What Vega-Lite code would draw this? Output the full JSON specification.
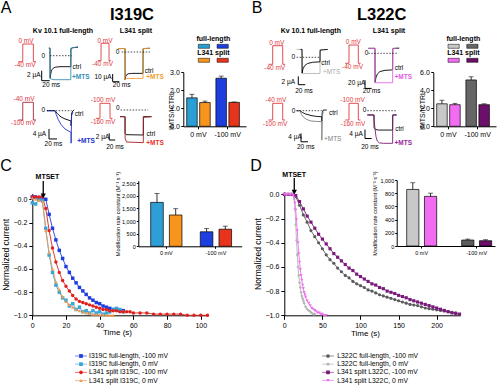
{
"$schema":"https://vega.github.io/schema/vega-lite/v6.json",
"width":500,"height":386,"padding":0,"autosize":{"type":"none"},"background":"white",
"config":{
 "view":{"stroke":null},
 "font":"Liberation Sans",
 "axis":{"grid":false,"domainColor":"#000","domainWidth":1,"tickColor":"#000","tickWidth":1,"labelColor":"#000","titleColor":"#000","labelFont":"Liberation Sans","titleFont":"Liberation Sans","titleFontWeight":"normal","labelFontSize":7,"titleFontSize":8,"tickSize":3,"labelPadding":2,"labelFlush":false,"labelOverlap":false},
 "legend":{"labelFont":"Liberation Sans","labelColor":"#000"},
 "text":{"baseline":"middle","font":"Liberation Sans"}
},
"resolve":{"scale":{"x":"independent","y":"independent","xOffset":"independent","color":"independent","fill":"independent","shape":"independent"}},
"datasets":{
"C":[
{"s":"I319C full-length, -100 mV","t":0,"y":0.02},{"s":"I319C full-length, -100 mV","t":2,"y":0.02},{"s":"I319C full-length, -100 mV","t":4,"y":0.01},{"s":"I319C full-length, -100 mV","t":6,"y":0.02},{"s":"I319C full-length, -100 mV","t":8,"y":0},{"s":"I319C full-length, -100 mV","t":10,"y":-0.13},{"s":"I319C full-length, -100 mV","t":12,"y":-0.25},{"s":"I319C full-length, -100 mV","t":14,"y":-0.35},{"s":"I319C full-length, -100 mV","t":16,"y":-0.44},{"s":"I319C full-length, -100 mV","t":18,"y":-0.51},{"s":"I319C full-length, -100 mV","t":20,"y":-0.58},{"s":"I319C full-length, -100 mV","t":22,"y":-0.63},{"s":"I319C full-length, -100 mV","t":24,"y":-0.68},{"s":"I319C full-length, -100 mV","t":26,"y":-0.72},{"s":"I319C full-length, -100 mV","t":28,"y":-0.76},{"s":"I319C full-length, -100 mV","t":30,"y":-0.79},{"s":"I319C full-length, -100 mV","t":32,"y":-0.82},{"s":"I319C full-length, -100 mV","t":34,"y":-0.85},{"s":"I319C full-length, -100 mV","t":36,"y":-0.87},{"s":"I319C full-length, -100 mV","t":38,"y":-0.89},{"s":"I319C full-length, -100 mV","t":40,"y":-0.9},{"s":"I319C full-length, -100 mV","t":42,"y":-0.92},{"s":"I319C full-length, -100 mV","t":44,"y":-0.93},{"s":"I319C full-length, -100 mV","t":46,"y":-0.94},{"s":"I319C full-length, -100 mV","t":48,"y":-0.95},{"s":"I319C full-length, -100 mV","t":50,"y":-0.95},{"s":"I319C full-length, -100 mV","t":52,"y":-0.96},{"s":"I319C full-length, -100 mV","t":54,"y":-0.96},
{"s":"I319C full-length, 0 mV","t":0,"y":-0.03},{"s":"I319C full-length, 0 mV","t":2,"y":-0.04},{"s":"I319C full-length, 0 mV","t":4,"y":0},{"s":"I319C full-length, 0 mV","t":6,"y":-0.01},{"s":"I319C full-length, 0 mV","t":8,"y":-0.25},{"s":"I319C full-length, 0 mV","t":10,"y":-0.48},{"s":"I319C full-length, 0 mV","t":12,"y":-0.63},{"s":"I319C full-length, 0 mV","t":14,"y":-0.74},{"s":"I319C full-length, 0 mV","t":16,"y":-0.8},{"s":"I319C full-length, 0 mV","t":18,"y":-0.85},{"s":"I319C full-length, 0 mV","t":20,"y":-0.87},{"s":"I319C full-length, 0 mV","t":22,"y":-0.92},{"s":"I319C full-length, 0 mV","t":24,"y":-0.9},{"s":"I319C full-length, 0 mV","t":26,"y":-0.95},{"s":"I319C full-length, 0 mV","t":28,"y":-0.93},{"s":"I319C full-length, 0 mV","t":30,"y":-0.97},{"s":"I319C full-length, 0 mV","t":32,"y":-0.96},{"s":"I319C full-length, 0 mV","t":34,"y":-0.98},{"s":"I319C full-length, 0 mV","t":36,"y":-0.96},{"s":"I319C full-length, 0 mV","t":38,"y":-0.98},{"s":"I319C full-length, 0 mV","t":40,"y":-0.97},{"s":"I319C full-length, 0 mV","t":42,"y":-0.99},{"s":"I319C full-length, 0 mV","t":44,"y":-0.98},{"s":"I319C full-length, 0 mV","t":46,"y":-0.97},{"s":"I319C full-length, 0 mV","t":48,"y":-0.95},{"s":"I319C full-length, 0 mV","t":50,"y":-0.94},{"s":"I319C full-length, 0 mV","t":52,"y":-0.95},{"s":"I319C full-length, 0 mV","t":54,"y":-0.97},
{"s":"L341 split I319C, -100 mV","t":0,"y":0.02},{"s":"L341 split I319C, -100 mV","t":2,"y":0.02},{"s":"L341 split I319C, -100 mV","t":4,"y":0.02},{"s":"L341 split I319C, -100 mV","t":6,"y":0.02},{"s":"L341 split I319C, -100 mV","t":8,"y":-0.08},{"s":"L341 split I319C, -100 mV","t":10,"y":-0.27},{"s":"L341 split I319C, -100 mV","t":12,"y":-0.42},{"s":"L341 split I319C, -100 mV","t":14,"y":-0.54},{"s":"L341 split I319C, -100 mV","t":16,"y":-0.63},{"s":"L341 split I319C, -100 mV","t":18,"y":-0.7},{"s":"L341 split I319C, -100 mV","t":20,"y":-0.75},{"s":"L341 split I319C, -100 mV","t":22,"y":-0.79},{"s":"L341 split I319C, -100 mV","t":24,"y":-0.83},{"s":"L341 split I319C, -100 mV","t":26,"y":-0.86},{"s":"L341 split I319C, -100 mV","t":28,"y":-0.88},{"s":"L341 split I319C, -100 mV","t":30,"y":-0.89},{"s":"L341 split I319C, -100 mV","t":32,"y":-0.9},{"s":"L341 split I319C, -100 mV","t":34,"y":-0.91},{"s":"L341 split I319C, -100 mV","t":36,"y":-0.92},{"s":"L341 split I319C, -100 mV","t":38,"y":-0.93},{"s":"L341 split I319C, -100 mV","t":40,"y":-0.94},{"s":"L341 split I319C, -100 mV","t":42,"y":-0.95},{"s":"L341 split I319C, -100 mV","t":44,"y":-0.95},{"s":"L341 split I319C, -100 mV","t":46,"y":-0.96},{"s":"L341 split I319C, -100 mV","t":48,"y":-0.96},{"s":"L341 split I319C, -100 mV","t":50,"y":-0.96},{"s":"L341 split I319C, -100 mV","t":52,"y":-0.97},{"s":"L341 split I319C, -100 mV","t":54,"y":-0.97},{"s":"L341 split I319C, -100 mV","t":56,"y":-0.97},{"s":"L341 split I319C, -100 mV","t":58,"y":-0.97},{"s":"L341 split I319C, -100 mV","t":60,"y":-0.98},{"s":"L341 split I319C, -100 mV","t":64,"y":-0.98},{"s":"L341 split I319C, -100 mV","t":68,"y":-0.98},{"s":"L341 split I319C, -100 mV","t":72,"y":-0.99},{"s":"L341 split I319C, -100 mV","t":76,"y":-0.99},{"s":"L341 split I319C, -100 mV","t":80,"y":-0.99},{"s":"L341 split I319C, -100 mV","t":84,"y":-0.99},{"s":"L341 split I319C, -100 mV","t":88,"y":-0.99},{"s":"L341 split I319C, -100 mV","t":92,"y":-1},{"s":"L341 split I319C, -100 mV","t":96,"y":-1},{"s":"L341 split I319C, -100 mV","t":100,"y":-1},{"s":"L341 split I319C, -100 mV","t":104,"y":-1},
{"s":"L341 split I319C, 0 mV","t":0,"y":0.01},{"s":"L341 split I319C, 0 mV","t":2,"y":0},{"s":"L341 split I319C, 0 mV","t":4,"y":-0.01},{"s":"L341 split I319C, 0 mV","t":6,"y":-0.02},{"s":"L341 split I319C, 0 mV","t":8,"y":-0.27},{"s":"L341 split I319C, 0 mV","t":10,"y":-0.46},{"s":"L341 split I319C, 0 mV","t":12,"y":-0.6},{"s":"L341 split I319C, 0 mV","t":14,"y":-0.71},{"s":"L341 split I319C, 0 mV","t":16,"y":-0.78},{"s":"L341 split I319C, 0 mV","t":18,"y":-0.84},{"s":"L341 split I319C, 0 mV","t":20,"y":-0.88},{"s":"L341 split I319C, 0 mV","t":22,"y":-0.91},{"s":"L341 split I319C, 0 mV","t":24,"y":-0.93},{"s":"L341 split I319C, 0 mV","t":26,"y":-0.95},{"s":"L341 split I319C, 0 mV","t":28,"y":-0.96},{"s":"L341 split I319C, 0 mV","t":30,"y":-0.97},{"s":"L341 split I319C, 0 mV","t":32,"y":-0.98},{"s":"L341 split I319C, 0 mV","t":34,"y":-0.98},{"s":"L341 split I319C, 0 mV","t":36,"y":-0.99},{"s":"L341 split I319C, 0 mV","t":38,"y":-0.99},{"s":"L341 split I319C, 0 mV","t":40,"y":-1},{"s":"L341 split I319C, 0 mV","t":42,"y":-0.99},{"s":"L341 split I319C, 0 mV","t":44,"y":-1},{"s":"L341 split I319C, 0 mV","t":46,"y":-1},{"s":"L341 split I319C, 0 mV","t":48,"y":-1}
],
"D":[
{"s":"L322C full-length, -100 mV","t":0,"y":0},{"s":"L322C full-length, -100 mV","t":5,"y":0},{"s":"L322C full-length, -100 mV","t":10,"y":0},{"s":"L322C full-length, -100 mV","t":15,"y":-0.02},{"s":"L322C full-length, -100 mV","t":20,"y":-0.09},{"s":"L322C full-length, -100 mV","t":25,"y":-0.17},{"s":"L322C full-length, -100 mV","t":30,"y":-0.23},{"s":"L322C full-length, -100 mV","t":35,"y":-0.3},{"s":"L322C full-length, -100 mV","t":40,"y":-0.35},{"s":"L322C full-length, -100 mV","t":45,"y":-0.4},{"s":"L322C full-length, -100 mV","t":50,"y":-0.45},{"s":"L322C full-length, -100 mV","t":55,"y":-0.5},{"s":"L322C full-length, -100 mV","t":60,"y":-0.54},{"s":"L322C full-length, -100 mV","t":65,"y":-0.57},{"s":"L322C full-length, -100 mV","t":70,"y":-0.61},{"s":"L322C full-length, -100 mV","t":75,"y":-0.64},{"s":"L322C full-length, -100 mV","t":80,"y":-0.67},{"s":"L322C full-length, -100 mV","t":85,"y":-0.69},{"s":"L322C full-length, -100 mV","t":90,"y":-0.72},{"s":"L322C full-length, -100 mV","t":95,"y":-0.74},{"s":"L322C full-length, -100 mV","t":100,"y":-0.755},{"s":"L322C full-length, -100 mV","t":105,"y":-0.77},{"s":"L322C full-length, -100 mV","t":110,"y":-0.79},{"s":"L322C full-length, -100 mV","t":115,"y":-0.8},{"s":"L322C full-length, -100 mV","t":120,"y":-0.815},{"s":"L322C full-length, -100 mV","t":125,"y":-0.83},{"s":"L322C full-length, -100 mV","t":130,"y":-0.84},{"s":"L322C full-length, -100 mV","t":135,"y":-0.85},{"s":"L322C full-length, -100 mV","t":140,"y":-0.86},{"s":"L322C full-length, -100 mV","t":145,"y":-0.87},{"s":"L322C full-length, -100 mV","t":150,"y":-0.88},{"s":"L322C full-length, -100 mV","t":155,"y":-0.89},{"s":"L322C full-length, -100 mV","t":160,"y":-0.9},{"s":"L322C full-length, -100 mV","t":165,"y":-0.91},{"s":"L322C full-length, -100 mV","t":170,"y":-0.915},{"s":"L322C full-length, -100 mV","t":175,"y":-0.92},{"s":"L322C full-length, -100 mV","t":180,"y":-0.93},{"s":"L322C full-length, -100 mV","t":185,"y":-0.94},{"s":"L322C full-length, -100 mV","t":190,"y":-0.945},{"s":"L322C full-length, -100 mV","t":195,"y":-0.95},{"s":"L322C full-length, -100 mV","t":200,"y":-0.955},{"s":"L322C full-length, -100 mV","t":205,"y":-0.96},{"s":"L322C full-length, -100 mV","t":210,"y":-0.965},{"s":"L322C full-length, -100 mV","t":215,"y":-0.97},{"s":"L322C full-length, -100 mV","t":220,"y":-0.975},{"s":"L322C full-length, -100 mV","t":225,"y":-0.98},
{"s":"L322C full-length, 0 mV","t":0,"y":0},{"s":"L322C full-length, 0 mV","t":2,"y":0},{"s":"L322C full-length, 0 mV","t":4,"y":0},{"s":"L322C full-length, 0 mV","t":6,"y":0},{"s":"L322C full-length, 0 mV","t":8,"y":0},{"s":"L322C full-length, 0 mV","t":10,"y":0},{"s":"L322C full-length, 0 mV","t":12,"y":-0.01},{"s":"L322C full-length, 0 mV","t":13,"y":-0.04},{"s":"L322C full-length, 0 mV","t":14,"y":-0.12},{"s":"L322C full-length, 0 mV","t":15,"y":-0.25},{"s":"L322C full-length, 0 mV","t":16,"y":-0.38},{"s":"L322C full-length, 0 mV","t":17,"y":-0.5},{"s":"L322C full-length, 0 mV","t":18,"y":-0.6},{"s":"L322C full-length, 0 mV","t":19,"y":-0.67},{"s":"L322C full-length, 0 mV","t":20,"y":-0.73},{"s":"L322C full-length, 0 mV","t":21,"y":-0.77},{"s":"L322C full-length, 0 mV","t":22,"y":-0.81},{"s":"L322C full-length, 0 mV","t":23,"y":-0.84},{"s":"L322C full-length, 0 mV","t":24,"y":-0.86},{"s":"L322C full-length, 0 mV","t":25,"y":-0.88},{"s":"L322C full-length, 0 mV","t":26,"y":-0.9},{"s":"L322C full-length, 0 mV","t":28,"y":-0.93},{"s":"L322C full-length, 0 mV","t":30,"y":-0.95},{"s":"L322C full-length, 0 mV","t":32,"y":-0.96},{"s":"L322C full-length, 0 mV","t":34,"y":-0.97},{"s":"L322C full-length, 0 mV","t":36,"y":-0.98},{"s":"L322C full-length, 0 mV","t":38,"y":-0.99},{"s":"L322C full-length, 0 mV","t":40,"y":-0.99},
{"s":"L341 split L322C, -100 mV","t":0,"y":0},{"s":"L341 split L322C, -100 mV","t":5,"y":0},{"s":"L341 split L322C, -100 mV","t":10,"y":0},{"s":"L341 split L322C, -100 mV","t":15,"y":-0.01},{"s":"L341 split L322C, -100 mV","t":20,"y":-0.06},{"s":"L341 split L322C, -100 mV","t":25,"y":-0.12},{"s":"L341 split L322C, -100 mV","t":30,"y":-0.18},{"s":"L341 split L322C, -100 mV","t":35,"y":-0.23},{"s":"L341 split L322C, -100 mV","t":40,"y":-0.28},{"s":"L341 split L322C, -100 mV","t":45,"y":-0.33},{"s":"L341 split L322C, -100 mV","t":50,"y":-0.37},{"s":"L341 split L322C, -100 mV","t":55,"y":-0.41},{"s":"L341 split L322C, -100 mV","t":60,"y":-0.45},{"s":"L341 split L322C, -100 mV","t":65,"y":-0.49},{"s":"L341 split L322C, -100 mV","t":70,"y":-0.52},{"s":"L341 split L322C, -100 mV","t":75,"y":-0.55},{"s":"L341 split L322C, -100 mV","t":80,"y":-0.58},{"s":"L341 split L322C, -100 mV","t":85,"y":-0.61},{"s":"L341 split L322C, -100 mV","t":90,"y":-0.63},{"s":"L341 split L322C, -100 mV","t":95,"y":-0.66},{"s":"L341 split L322C, -100 mV","t":100,"y":-0.68},{"s":"L341 split L322C, -100 mV","t":105,"y":-0.7},{"s":"L341 split L322C, -100 mV","t":110,"y":-0.72},{"s":"L341 split L322C, -100 mV","t":115,"y":-0.74},{"s":"L341 split L322C, -100 mV","t":120,"y":-0.75},{"s":"L341 split L322C, -100 mV","t":125,"y":-0.77},{"s":"L341 split L322C, -100 mV","t":130,"y":-0.78},{"s":"L341 split L322C, -100 mV","t":135,"y":-0.8},{"s":"L341 split L322C, -100 mV","t":140,"y":-0.81},{"s":"L341 split L322C, -100 mV","t":145,"y":-0.82},{"s":"L341 split L322C, -100 mV","t":150,"y":-0.835},{"s":"L341 split L322C, -100 mV","t":155,"y":-0.845},{"s":"L341 split L322C, -100 mV","t":160,"y":-0.855},{"s":"L341 split L322C, -100 mV","t":165,"y":-0.87},{"s":"L341 split L322C, -100 mV","t":170,"y":-0.88},{"s":"L341 split L322C, -100 mV","t":175,"y":-0.89},{"s":"L341 split L322C, -100 mV","t":180,"y":-0.9},{"s":"L341 split L322C, -100 mV","t":185,"y":-0.91},{"s":"L341 split L322C, -100 mV","t":190,"y":-0.92},{"s":"L341 split L322C, -100 mV","t":195,"y":-0.93},{"s":"L341 split L322C, -100 mV","t":200,"y":-0.94},{"s":"L341 split L322C, -100 mV","t":205,"y":-0.95},{"s":"L341 split L322C, -100 mV","t":210,"y":-0.96},{"s":"L341 split L322C, -100 mV","t":215,"y":-0.97},{"s":"L341 split L322C, -100 mV","t":220,"y":-0.98},{"s":"L341 split L322C, -100 mV","t":225,"y":-0.985},{"s":"L341 split L322C, -100 mV","t":230,"y":-0.99},
{"s":"L341 split L322C, 0 mV","t":0,"y":0},{"s":"L341 split L322C, 0 mV","t":2,"y":0},{"s":"L341 split L322C, 0 mV","t":4,"y":0},{"s":"L341 split L322C, 0 mV","t":6,"y":0},{"s":"L341 split L322C, 0 mV","t":8,"y":0},{"s":"L341 split L322C, 0 mV","t":10,"y":0},{"s":"L341 split L322C, 0 mV","t":12,"y":-0.01},{"s":"L341 split L322C, 0 mV","t":13,"y":-0.03},{"s":"L341 split L322C, 0 mV","t":14,"y":-0.07},{"s":"L341 split L322C, 0 mV","t":15,"y":-0.13},{"s":"L341 split L322C, 0 mV","t":16,"y":-0.21},{"s":"L341 split L322C, 0 mV","t":17,"y":-0.3},{"s":"L341 split L322C, 0 mV","t":18,"y":-0.4},{"s":"L341 split L322C, 0 mV","t":19,"y":-0.49},{"s":"L341 split L322C, 0 mV","t":20,"y":-0.56},{"s":"L341 split L322C, 0 mV","t":21,"y":-0.62},{"s":"L341 split L322C, 0 mV","t":22,"y":-0.67},{"s":"L341 split L322C, 0 mV","t":23,"y":-0.71},{"s":"L341 split L322C, 0 mV","t":24,"y":-0.75},{"s":"L341 split L322C, 0 mV","t":25,"y":-0.78},{"s":"L341 split L322C, 0 mV","t":26,"y":-0.81},{"s":"L341 split L322C, 0 mV","t":27,"y":-0.83},{"s":"L341 split L322C, 0 mV","t":28,"y":-0.85},{"s":"L341 split L322C, 0 mV","t":30,"y":-0.88},{"s":"L341 split L322C, 0 mV","t":32,"y":-0.9},{"s":"L341 split L322C, 0 mV","t":34,"y":-0.92},{"s":"L341 split L322C, 0 mV","t":36,"y":-0.94},{"s":"L341 split L322C, 0 mV","t":38,"y":-0.95},{"s":"L341 split L322C, 0 mV","t":40,"y":-0.96},{"s":"L341 split L322C, 0 mV","t":42,"y":-0.97},{"s":"L341 split L322C, 0 mV","t":44,"y":-0.98},{"s":"L341 split L322C, 0 mV","t":46,"y":-0.98},{"s":"L341 split L322C, 0 mV","t":48,"y":-0.99},{"s":"L341 split L322C, 0 mV","t":50,"y":-0.99},{"s":"L341 split L322C, 0 mV","t":52,"y":-1},{"s":"L341 split L322C, 0 mV","t":55,"y":-1}
]
},
"layer":[
{"data":{"values":[
{"s":"c","t":22,"i":1.5},{"s":"c","t":25,"i":1.5},{"s":"c","t":25.3,"i":-4.5},{"s":"c","t":26.5,"i":-3.8},{"s":"c","t":28,"i":-3.2},{"s":"c","t":30,"i":-2.8},{"s":"c","t":33,"i":-2.5},{"s":"c","t":38,"i":-2.3},{"s":"c","t":50,"i":-2.2},{"s":"c","t":77,"i":-2.2},{"s":"c","t":77.3,"i":1.4},{"s":"c","t":82,"i":1.6},{"s":"c","t":95,"i":1.7},
{"s":"m","t":22,"i":1.5},{"s":"m","t":25,"i":1.5},{"s":"m","t":25.3,"i":-4.6},{"s":"m","t":35,"i":-4.8},{"s":"m","t":77,"i":-4.8},{"s":"m","t":77.3,"i":1.5},{"s":"m","t":95,"i":1.8}]},
"encoding":{"x":{"field":"t","type":"quantitative","scale":{"domain":[0,100],"range":[40,80]},"axis":null},"y":{"field":"i","type":"quantitative","scale":{"domain":[-6,3],"range":[85.7,40.7]},"axis":null}},
"layer":[
{"transform":[{"filter":"datum.s==='c'"}],"mark":{"type":"line","color":"#000","strokeWidth":0.9}},
{"transform":[{"filter":"datum.s==='m'"}],"mark":{"type":"line","color":"#3592b5","strokeWidth":0.9}},
{"data":{"values":[{"t":25,"t1":79,"i":0}]},"mark":{"type":"rule","color":"#000","strokeWidth":0.7,"strokeDash":[1.5,1.5]},"encoding":{"x2":{"field":"t1"}}},
{"data":{"values":[{"t":4.25,"t1":4.25,"i":-3,"i1":-5},{"t":4.25,"t1":24.25,"i":-5,"i1":-5}]},"mark":{"type":"rule","color":"#000","strokeWidth":1},"encoding":{"x2":{"field":"t1"},"y2":{"field":"i1"}}},
{"data":{"values":[{"t":8,"i":0,"txt":"0"},{"t":-15.5,"i":-3.9,"txt":"2 µA"},{"t":28,"i":-5.9,"txt":"20 ms"},{"t":92,"i":-2.2,"txt":"ctrl"}]},"mark":{"type":"text","fontSize":6.5,"color":"#000"},"encoding":{"text":{"field":"txt"}}},
{"data":{"values":[{"t":102,"i":-4.2,"txt":"+MTS"}]},"mark":{"type":"text","fontSize":6.5,"fontWeight":"bold","color":"#3592b5"},"encoding":{"text":{"field":"txt"}}},
{"data":{"values":[{"t":-85,"i":9.54,"txt":"A"}]},"mark":{"type":"text","fontSize":16,"color":"#000"},"encoding":{"text":{"field":"txt"}}},
{"data":{"values":[{"t":230,"i":8.14,"txt":"I319C"}]},"mark":{"type":"text","fontSize":16.5,"fontWeight":"bold","color":"#000"},"encoding":{"text":{"field":"txt"}}},
{"data":{"values":[{"t":57.5,"i":4.94,"txt":"Kv 10.1 full-length"},{"t":240,"i":4.94,"txt":"L341 split"}]},"mark":{"type":"text","fontSize":7,"fontWeight":"bold","color":"#000"},"encoding":{"text":{"field":"txt"}}}
]},
{"data":{"values":[{"t":0,"v":-40},{"t":15,"v":-40},{"t":15.2,"v":0},{"t":51,"v":0},{"t":51.2,"v":-40},{"t":60,"v":-40}]},
"encoding":{"x":{"field":"t","type":"quantitative","scale":{"domain":[0,60],"range":[18.3,36]},"axis":null},"y":{"field":"v","type":"quantitative","scale":{"domain":[-40,0],"range":[61.7,44]},"axis":null}},
"layer":[{"mark":{"type":"line","color":"#e0393e","strokeWidth":0.9}},
{"data":{"values":[{"t":26,"v":7.5,"txt":"0 mV"},{"t":22.7,"v":-47,"txt":"-40 mV"}]},"mark":{"type":"text","fontSize":6.5,"color":"#e0393e"},"encoding":{"text":{"field":"txt"}}}]},
{"data":{"values":[{"t":0,"v":-40},{"t":15,"v":-40},{"t":15.2,"v":0},{"t":51,"v":0},{"t":51.2,"v":-40},{"t":60,"v":-40}]},
"encoding":{"x":{"field":"t","type":"quantitative","scale":{"domain":[0,60],"range":[97.7,111]},"axis":null},"y":{"field":"v","type":"quantitative","scale":{"domain":[-40,0],"range":[60.7,43.3]},"axis":null}},
"layer":[{"mark":{"type":"line","color":"#e0393e","strokeWidth":0.9}},
{"data":{"values":[{"t":33,"v":6,"txt":"0 mV"},{"t":21.6,"v":-47.6,"txt":"-40 mV"}]},"mark":{"type":"text","fontSize":6.5,"color":"#e0393e"},"encoding":{"text":{"field":"txt"}}}]},
{"data":{"values":[{"t":0,"v":-100},{"t":15,"v":-100},{"t":15.2,"v":-40},{"t":51,"v":-40},{"t":51.2,"v":-100},{"t":60,"v":-100}]},
"encoding":{"x":{"field":"t","type":"quantitative","scale":{"domain":[0,60],"range":[18.3,36]},"axis":null},"y":{"field":"v","type":"quantitative","scale":{"domain":[-100,-40],"range":[120,102.3]},"axis":null}},
"layer":[{"mark":{"type":"line","color":"#a8253a","strokeWidth":0.9}},
{"data":{"values":[{"t":19.3,"v":-28.8,"txt":"-40 mV"},{"t":17,"v":-111.2,"txt":"-100 mV"}]},"mark":{"type":"text","fontSize":6.5,"color":"#d9363e"},"encoding":{"text":{"field":"txt"}}}]},
{"data":{"values":[{"t":0,"v":-160},{"t":15,"v":-160},{"t":15.2,"v":-100},{"t":51,"v":-100},{"t":51.2,"v":-160},{"t":60,"v":-160}]},
"encoding":{"x":{"field":"t","type":"quantitative","scale":{"domain":[0,60],"range":[95.8,112.5]},"axis":null},"y":{"field":"v","type":"quantitative","scale":{"domain":[-160,-100],"range":[118.3,103.3]},"axis":null}},
"layer":[{"mark":{"type":"line","color":"#e0393e","strokeWidth":0.9}},
{"data":{"values":[{"t":25.9,"v":-86.8,"txt":"-100 mV"},{"t":25.9,"v":-173.6,"txt":"-160 mV"}]},"mark":{"type":"text","fontSize":6.5,"color":"#e0393e"},"encoding":{"text":{"field":"txt"}}}]},
{"data":{"values":[{"t":0,"v":-40},{"t":15,"v":-40},{"t":15.2,"v":0},{"t":51,"v":0},{"t":51.2,"v":-40},{"t":60,"v":-40}]},
"encoding":{"x":{"field":"t","type":"quantitative","scale":{"domain":[0,60],"range":[268.5,285.2]},"axis":null},"y":{"field":"v","type":"quantitative","scale":{"domain":[-40,0],"range":[64.3,45.7]},"axis":null}},
"layer":[{"mark":{"type":"line","color":"#e0393e","strokeWidth":0.9}},
{"data":{"values":[{"t":29.5,"v":6.5,"txt":"0 mV"},{"t":22.3,"v":-47,"txt":"-40 mV"}]},"mark":{"type":"text","fontSize":6.5,"color":"#e0393e"},"encoding":{"text":{"field":"txt"}}}]},
{"data":{"values":[{"t":0,"v":-40},{"t":15,"v":-40},{"t":15.2,"v":0},{"t":51,"v":0},{"t":51.2,"v":-40},{"t":60,"v":-40}]},
"encoding":{"x":{"field":"t","type":"quantitative","scale":{"domain":[0,60],"range":[345.1,360.6]},"axis":null},"y":{"field":"v","type":"quantitative","scale":{"domain":[-40,0],"range":[63.3,45]},"axis":null}},
"layer":[{"mark":{"type":"line","color":"#e0393e","strokeWidth":0.9}},
{"data":{"values":[{"t":31.8,"v":7.2,"txt":"0 mV"},{"t":28.7,"v":-47.4,"txt":"-40 mV"}]},"mark":{"type":"text","fontSize":6.5,"color":"#e0393e"},"encoding":{"text":{"field":"txt"}}}]},
{"data":{"values":[{"t":0,"v":-100},{"t":15,"v":-100},{"t":15.2,"v":-40},{"t":51,"v":-40},{"t":51.2,"v":-100},{"t":60,"v":-100}]},
"encoding":{"x":{"field":"t","type":"quantitative","scale":{"domain":[0,60],"range":[268.5,285.2]},"axis":null},"y":{"field":"v","type":"quantitative","scale":{"domain":[-100,-40],"range":[120,103.3]},"axis":null}},
"layer":[{"mark":{"type":"line","color":"#e0393e","strokeWidth":0.9}},
{"data":{"values":[{"t":26.3,"v":-28.1,"txt":"-40 mV"},{"t":23.4,"v":-114.4,"txt":"-100 mV"}]},"mark":{"type":"text","fontSize":6.5,"color":"#e0393e"},"encoding":{"text":{"field":"txt"}}}]},
{"data":{"values":[{"t":0,"v":-160},{"t":15,"v":-160},{"t":15.2,"v":-100},{"t":51,"v":-100},{"t":51.2,"v":-160},{"t":60,"v":-160}]},
"encoding":{"x":{"field":"t","type":"quantitative","scale":{"domain":[0,60],"range":[345.1,360.6]},"axis":null},"y":{"field":"v","type":"quantitative","scale":{"domain":[-160,-100],"range":[120,103.3]},"axis":null}},
"layer":[{"mark":{"type":"line","color":"#e0393e","strokeWidth":0.9}},
{"data":{"values":[{"t":28.7,"v":-88.1,"txt":"-100 mV"},{"t":30.6,"v":-174.4,"txt":"-160 mV"}]},"mark":{"type":"text","fontSize":6.5,"color":"#e0393e"},"encoding":{"text":{"field":"txt"}}}]},
{"data":{"values":[
{"s":"c","t":24,"i":4.5},{"s":"c","t":45,"i":4.5},{"s":"c","t":45.3,"i":-36},{"s":"c","t":47,"i":-32},{"s":"c","t":50,"i":-29.5},{"s":"c","t":55,"i":-28.3},{"s":"c","t":65,"i":-27.8},{"s":"c","t":99,"i":-27.7},{"s":"c","t":99.3,"i":4.2},{"s":"c","t":105,"i":4.6},{"s":"c","t":120,"i":4.8},
{"s":"m","t":24,"i":4.5},{"s":"m","t":45,"i":4.5},{"s":"m","t":45.3,"i":-36},{"s":"m","t":50,"i":-34.5},{"s":"m","t":99,"i":-34.2},{"s":"m","t":99.3,"i":4.5},{"s":"m","t":120,"i":4.8}]},
"encoding":{"x":{"field":"t","type":"quantitative","scale":{"domain":[0,120],"range":[110,150]},"axis":null},"y":{"field":"i","type":"quantitative","scale":{"domain":[-40,10],"range":[82.8,44.3]},"axis":null}},
"layer":[
{"transform":[{"filter":"datum.s==='c'"}],"mark":{"type":"line","color":"#000","strokeWidth":0.9}},
{"transform":[{"filter":"datum.s==='m'"}],"mark":{"type":"line","color":"#f0a030","strokeWidth":0.9}},
{"data":{"values":[{"t":35,"t1":120,"i":0}]},"mark":{"type":"rule","color":"#000","strokeWidth":0.7,"strokeDash":[1.5,1.5]},"encoding":{"x2":{"field":"t1"}}},
{"data":{"values":[{"t":8,"t1":8,"i":-28.6,"i1":-38.6},{"t":8,"t1":28,"i":-38.6,"i1":-38.6}]},"mark":{"type":"rule","color":"#000","strokeWidth":1},"encoding":{"x2":{"field":"t1"},"y2":{"field":"i1"}}},
{"data":{"values":[{"t":23,"i":0.6,"txt":"0"},{"t":-21,"i":-33,"txt":"10 µA"},{"t":35,"i":-42.9,"txt":"20 ms"},{"t":117,"i":-25.3,"txt":"ctrl"}]},"mark":{"type":"text","fontSize":6.5,"color":"#000"},"encoding":{"text":{"field":"txt"}}},
{"data":{"values":[{"t":135,"i":-33,"txt":"+MTS"}]},"mark":{"type":"text","fontSize":6.5,"fontWeight":"bold","color":"#f0a030"},"encoding":{"text":{"field":"txt"}}}
]},
{"data":{"values":[
{"s":"c","t":5,"i":0},{"s":"c","t":25,"i":0},{"s":"c","t":30,"i":-1},{"s":"c","t":35,"i":-1.8},{"s":"c","t":40,"i":-2.5},{"s":"c","t":50,"i":-3.3},{"s":"c","t":63,"i":-4},{"s":"c","t":65,"i":-4.1},{"s":"c","t":65.3,"i":-6},{"s":"c","t":66.5,"i":-1},{"s":"c","t":70,"i":0},{"s":"c","t":73,"i":0.3},
{"s":"m","t":5,"i":0},{"s":"m","t":25,"i":0},{"s":"m","t":28,"i":-1.5},{"s":"m","t":33,"i":-3.5},{"s":"m","t":40,"i":-5.5},{"s":"m","t":50,"i":-7.3},{"s":"m","t":63,"i":-8.5},{"s":"m","t":65,"i":-8.6},{"s":"m","t":65.3,"i":-13},{"s":"m","t":66.5,"i":-2},{"s":"m","t":70,"i":-0.5}]},
"encoding":{"x":{"field":"t","type":"quantitative","scale":{"domain":[0,100],"range":[45,85]},"axis":null},"y":{"field":"i","type":"quantitative","scale":{"domain":[-14,4],"range":[145.7,100.7]},"axis":null}},
"layer":[
{"transform":[{"filter":"datum.s==='c'"}],"mark":{"type":"line","color":"#000","strokeWidth":0.9}},
{"transform":[{"filter":"datum.s==='m'"}],"mark":{"type":"line","color":"#2233cc","strokeWidth":0.9}},
{"data":{"values":[{"t":4.25,"t1":66.75,"i":0}]},"mark":{"type":"rule","color":"#000","strokeWidth":0.7,"strokeDash":[1.5,1.5]},"encoding":{"x2":{"field":"t1"}}},
{"data":{"values":[{"t":10,"t1":10,"i":-7.3,"i1":-11.3},{"t":10,"t1":30,"i":-11.3,"i1":-11.3}]},"mark":{"type":"rule","color":"#000","strokeWidth":1},"encoding":{"x2":{"field":"t1"},"y2":{"field":"i1"}}},
{"data":{"values":[{"t":-4,"i":0.3,"txt":"0"},{"t":-14,"i":-9.3,"txt":"4 µA"},{"t":21,"i":-13.3,"txt":"20 ms"},{"t":85,"i":-1.5,"txt":"ctrl"}]},"mark":{"type":"text","fontSize":6.5,"color":"#000"},"encoding":{"text":{"field":"txt"}}},
{"data":{"values":[{"t":102.5,"i":-12.1,"txt":"+MTS"}]},"mark":{"type":"text","fontSize":6.5,"fontWeight":"bold","color":"#2233cc"},"encoding":{"text":{"field":"txt"}}}
]},
{"data":{"values":[
{"s":"c","t":50,"i":-2},{"s":"c","t":66.7,"i":-2},{"s":"c","t":67,"i":-7},{"s":"c","t":70,"i":-7.4},{"s":"c","t":127.7,"i":-7.5},{"s":"c","t":128,"i":-2},{"s":"c","t":155,"i":-2},
{"s":"m","t":50,"i":-2},{"s":"m","t":66.7,"i":-2},{"s":"m","t":67,"i":-8.5},{"s":"m","t":72,"i":-9.6},{"s":"m","t":127.7,"i":-9.8},{"s":"m","t":128,"i":-2.2},{"s":"m","t":155,"i":-2}]},
"encoding":{"x":{"field":"t","type":"quantitative","scale":{"domain":[0,100],"range":[105,135]},"axis":null},"y":{"field":"i","type":"quantitative","scale":{"domain":[-12,3],"range":[150,100]},"axis":null}},
"layer":[
{"transform":[{"filter":"datum.s==='c'"}],"mark":{"type":"line","color":"#000","strokeWidth":0.9}},
{"transform":[{"filter":"datum.s==='m'"}],"mark":{"type":"line","color":"#a81c20","strokeWidth":0.9}},
{"data":{"values":[{"t":52,"t1":144,"i":0}]},"mark":{"type":"rule","color":"#000","strokeWidth":0.7,"strokeDash":[1.5,1.5]},"encoding":{"x2":{"field":"t1"}}},
{"data":{"values":[{"t":14,"t1":14,"i":-7,"i1":-9},{"t":14,"t1":34,"i":-9,"i1":-9}]},"mark":{"type":"rule","color":"#000","strokeWidth":1},"encoding":{"x2":{"field":"t1"},"y2":{"field":"i1"}}},
{"data":{"values":[{"t":42.3,"i":0.5,"txt":"0"},{"t":-8.3,"i":-8,"txt":"2 µA"},{"t":33.3,"i":-11.2,"txt":"20 ms"},{"t":153,"i":-7.3,"txt":"ctrl"}]},"mark":{"type":"text","fontSize":6.5,"color":"#000"},"encoding":{"text":{"field":"txt"}}},
{"data":{"values":[{"t":166.7,"i":-10,"txt":"+MTS"}]},"mark":{"type":"text","fontSize":6.5,"fontWeight":"bold","color":"#e8322c"},"encoding":{"text":{"field":"txt"}}}
]},
{"data":{"values":[
{"s":"c","t":30,"i":1.9},{"s":"c","t":34.3,"i":1.9},{"s":"c","t":34.6,"i":-3.8},{"s":"c","t":37,"i":-2.8},{"s":"c","t":42,"i":-2},{"s":"c","t":50,"i":-1.5},{"s":"c","t":65,"i":-1.2},{"s":"c","t":85.7,"i":-1.1},{"s":"c","t":86,"i":1.7},{"s":"c","t":95,"i":1.8},{"s":"c","t":108,"i":1.9},
{"s":"m","t":19,"i":1.9},{"s":"m","t":34.3,"i":1.9},{"s":"m","t":34.6,"i":-3.9},{"s":"m","t":85.7,"i":-3.9},{"s":"m","t":86,"i":1.9},{"s":"m","t":100,"i":1.9}]},
"encoding":{"x":{"field":"t","type":"quantitative","scale":{"domain":[0,100],"range":[290,325]},"axis":null},"y":{"field":"i","type":"quantitative","scale":{"domain":[-7,3],"range":[86.35,44.85]},"axis":null}},
"layer":[
{"transform":[{"filter":"datum.s==='m'"}],"mark":{"type":"line","color":"#b8b8b8","strokeWidth":0.9}},
{"transform":[{"filter":"datum.s==='c'"}],"mark":{"type":"line","color":"#000","strokeWidth":0.9}},
{"data":{"values":[{"t":19,"t1":85.7,"i":0}]},"mark":{"type":"rule","color":"#000","strokeWidth":0.7,"strokeDash":[1.5,1.5]},"encoding":{"x2":{"field":"t1"}}},
{"data":{"values":[{"t":23.7,"t1":23.7,"i":-4.6,"i1":-6.6},{"t":23.7,"t1":43.7,"i":-6.6,"i1":-6.6}]},"mark":{"type":"rule","color":"#000","strokeWidth":1},"encoding":{"x2":{"field":"t1"},"y2":{"field":"i1"}}},
{"data":{"values":[{"t":9.4,"i":0.1,"txt":"0"},{"t":-4.9,"i":-5.9,"txt":"2 µA"},{"t":40,"i":-8.1,"txt":"20 ms"},{"t":102,"i":-1.45,"txt":"ctrl"}]},"mark":{"type":"text","fontSize":6.5,"color":"#000"},"encoding":{"text":{"field":"txt"}}},
{"data":{"values":[{"t":119,"i":-3.6,"txt":"+MTS"}]},"mark":{"type":"text","fontSize":6.5,"color":"#aaaaaa"},"encoding":{"text":{"field":"txt"}}},
{"data":{"values":[{"t":-94.3,"i":11.9,"txt":"B"}]},"mark":{"type":"text","fontSize":16,"color":"#000"},"encoding":{"text":{"field":"txt"}}},
{"data":{"values":[{"t":262,"i":10.19,"txt":"L322C"}]},"mark":{"type":"text","fontSize":16.5,"fontWeight":"bold","color":"#000"},"encoding":{"text":{"field":"txt"}}},
{"data":{"values":[{"t":59.4,"i":6.33,"txt":"Kv 10.1 full-length"},{"t":282.9,"i":6.33,"txt":"L341 split"}]},"mark":{"type":"text","fontSize":7,"fontWeight":"bold","color":"#000"},"encoding":{"text":{"field":"txt"}}}
]},
{"data":{"values":[
{"s":"c","t":25,"i":12},{"s":"c","t":45,"i":12},{"s":"c","t":45.3,"i":-70},{"s":"c","t":48,"i":-58},{"s":"c","t":52,"i":-50},{"s":"c","t":60,"i":-44},{"s":"c","t":75,"i":-41},{"s":"c","t":98,"i":-40},{"s":"c","t":98.3,"i":11},{"s":"c","t":105,"i":12},{"s":"c","t":118,"i":12.5},
{"s":"m","t":25,"i":12},{"s":"m","t":45,"i":12},{"s":"m","t":45.3,"i":-71},{"s":"m","t":98,"i":-71},{"s":"m","t":98.3,"i":12},{"s":"m","t":110,"i":12.3}]},
"encoding":{"x":{"field":"t","type":"quantitative","scale":{"domain":[0,100],"range":[360,393.3]},"axis":null},"y":{"field":"i","type":"quantitative","scale":{"domain":[-80,20],"range":[86.5,45]},"axis":null}},
"layer":[
{"transform":[{"filter":"datum.s==='c'"}],"mark":{"type":"line","color":"#000","strokeWidth":0.9}},
{"transform":[{"filter":"datum.s==='m'"}],"mark":{"type":"line","color":"#e466e4","strokeWidth":0.9}},
{"data":{"values":[{"t":25,"t1":115,"i":0}]},"mark":{"type":"rule","color":"#000","strokeWidth":0.7,"strokeDash":[1.5,1.5]},"encoding":{"x2":{"field":"t1"}}},
{"data":{"values":[{"t":15,"t1":15,"i":-64.6,"i1":-84.6},{"t":15,"t1":35,"i":-84.6,"i1":-84.6}]},"mark":{"type":"rule","color":"#000","strokeWidth":1},"encoding":{"x2":{"field":"t1"},"y2":{"field":"i1"}}},
{"data":{"values":[{"t":20,"i":1.4,"txt":"0"},{"t":-10,"i":-72.3,"txt":"20 µA"},{"t":35,"i":-90.8,"txt":"20 ms"},{"t":117,"i":-36.6,"txt":"ctrl"}]},"mark":{"type":"text","fontSize":6.5,"color":"#000"},"encoding":{"text":{"field":"txt"}}},
{"data":{"values":[{"t":130,"i":-56.9,"txt":"+MTS"}]},"mark":{"type":"text","fontSize":6.5,"fontWeight":"bold","color":"#e060e0"},"encoding":{"text":{"field":"txt"}}}
]},
{"data":{"values":[
{"s":"c","t":19,"i":0},{"s":"c","t":28.6,"i":0},{"s":"c","t":35,"i":-0.8},{"s":"c","t":45,"i":-1.6},{"s":"c","t":60,"i":-2.3},{"s":"c","t":75,"i":-2.7},{"s":"c","t":90.6,"i":-2.9},{"s":"c","t":90.9,"i":-5},{"s":"c","t":92,"i":-1},{"s":"c","t":95,"i":0.3},{"s":"c","t":105,"i":0.3},
{"s":"m","t":19,"i":0},{"s":"m","t":28.6,"i":0},{"s":"m","t":32,"i":-1.5},{"s":"m","t":38,"i":-3},{"s":"m","t":48,"i":-4.2},{"s":"m","t":60,"i":-4.9},{"s":"m","t":75,"i":-5.1},{"s":"m","t":90.6,"i":-5.2},{"s":"m","t":90.9,"i":-14},{"s":"m","t":92.5,"i":-2.5},{"s":"m","t":95,"i":-0.5}]},
"encoding":{"x":{"field":"t","type":"quantitative","scale":{"domain":[0,100],"range":[290,325]},"axis":null},"y":{"field":"i","type":"quantitative","scale":{"domain":[-16,4],"range":[144.3,102.3]},"axis":null}},
"layer":[
{"transform":[{"filter":"datum.s==='c'"}],"mark":{"type":"line","color":"#000","strokeWidth":0.9}},
{"transform":[{"filter":"datum.s==='m'"}],"mark":{"type":"line","color":"#808080","strokeWidth":0.9}},
{"data":{"values":[{"t":19,"t1":90.6,"i":0}]},"mark":{"type":"rule","color":"#000","strokeWidth":0.7,"strokeDash":[1.5,1.5]},"encoding":{"x2":{"field":"t1"}}},
{"data":{"values":[{"t":31.4,"t1":31.4,"i":-10.8,"i1":-14.8},{"t":31.4,"t1":51.4,"i":-14.8,"i1":-14.8}]},"mark":{"type":"rule","color":"#000","strokeWidth":1},"encoding":{"x2":{"field":"t1"},"y2":{"field":"i1"}}},
{"data":{"values":[{"t":10,"i":0,"txt":"0"},{"t":14.3,"i":-12.5,"txt":"4 µA"},{"t":45,"i":-17.5,"txt":"20 ms"},{"t":123.7,"i":-1.2,"txt":"ctrl"}]},"mark":{"type":"text","fontSize":6.5,"color":"#000"},"encoding":{"text":{"field":"txt"}}},
{"data":{"values":[{"t":122,"i":-13.7,"txt":"+MTS"}]},"mark":{"type":"text","fontSize":6.5,"color":"#808080"},"encoding":{"text":{"field":"txt"}}}
]},
{"data":{"values":[
{"s":"c","t":22,"i":-1.9},{"s":"c","t":42,"i":-1.9},{"s":"c","t":42.3,"i":-7.5},{"s":"c","t":46,"i":-8.3},{"s":"c","t":55,"i":-8.6},{"s":"c","t":98,"i":-8.6},{"s":"c","t":98.3,"i":-1.9},{"s":"c","t":110,"i":-1.9},
{"s":"m","t":22,"i":-1.9},{"s":"m","t":42,"i":-1.9},{"s":"m","t":42.3,"i":-4},{"s":"m","t":45,"i":-8},{"s":"m","t":48,"i":-11.5},{"s":"m","t":52,"i":-13.5},{"s":"m","t":58,"i":-14.3},{"s":"m","t":70,"i":-14.5},{"s":"m","t":98,"i":-14.5},{"s":"m","t":98.3,"i":-1.9},{"s":"m","t":110,"i":-1.9}]},
"encoding":{"x":{"field":"t","type":"quantitative","scale":{"domain":[0,100],"range":[360,393.3]},"axis":null},"y":{"field":"i","type":"quantitative","scale":{"domain":[-16,4],"range":[146.7,101.7]},"axis":null}},
"layer":[
{"transform":[{"filter":"datum.s==='c'"}],"mark":{"type":"line","color":"#000","strokeWidth":0.9}},
{"transform":[{"filter":"datum.s==='m'"}],"mark":{"type":"line","color":"#7b1f7b","strokeWidth":0.9}},
{"data":{"values":[{"t":22,"t1":110,"i":0}]},"mark":{"type":"rule","color":"#000","strokeWidth":0.7,"strokeDash":[1.5,1.5]},"encoding":{"x2":{"field":"t1"}}},
{"data":{"values":[{"t":15,"t1":15,"i":-8.36,"i1":-12.36},{"t":15,"t1":35,"i":-12.36,"i1":-12.36}]},"mark":{"type":"rule","color":"#000","strokeWidth":1},"encoding":{"x2":{"field":"t1"},"y2":{"field":"i1"}}},
{"data":{"values":[{"t":14,"i":0.3,"txt":"0"},{"t":-12,"i":-10.36,"txt":"4 µA"},{"t":30,"i":-16.1,"txt":"20 ms"},{"t":118.5,"i":-8.2,"txt":"ctrl"}]},"mark":{"type":"text","fontSize":6.5,"color":"#000"},"encoding":{"text":{"field":"txt"}}},
{"data":{"values":[{"t":130,"i":-14.5,"txt":"+MTS"}]},"mark":{"type":"text","fontSize":6.5,"fontWeight":"bold","color":"#9a1f9a"},"encoding":{"text":{"field":"txt"}}}
]},
{"data":{"values":[
{"v":"0 mV","c":"full-length","k":"a","m":1.58,"e":1.78},
{"v":"0 mV","c":"L341 split","k":"b","m":1.32,"e":1.4},
{"v":"-100 mV","c":"full-length","k":"c","m":2.67,"e":2.79},
{"v":"-100 mV","c":"L341 split","k":"d","m":1.33,"e":1.35}]},
"encoding":{
"x":{"field":"v","type":"nominal","sort":null,"scale":{"domain":["0 mV","-100 mV"],"range":[183.3,246],"paddingInner":0.195,"paddingOuter":0.171,"align":0.34},"axis":{"orient":"bottom","offset":-259.7,"title":null,"labelAngle":0,"labelFontSize":7,"tickSize":2.5,"labelPadding":2}},
"xOffset":{"field":"c","type":"nominal","sort":null,"scale":{"domain":["full-length","L341 split"],"paddingInner":0.19,"paddingOuter":0}}},
"layer":[
{"mark":{"type":"bar","stroke":"#000","strokeWidth":0.7},"encoding":{
"y":{"field":"m","type":"quantitative","scale":{"domain":[0,3],"range":[126.3,72.3]},"axis":{"orient":"left","offset":-183.3,"values":[0,1,2,3],"title":"IMTS/ICTRL","titleX":-12,"titleY":110,"titleBaseline":"middle","titleFontSize":7,"labelFontSize":7,"tickSize":2.5,"labelPadding":1.5}},
"fill":{"field":"k","type":"nominal","scale":{"domain":["a","b","c","d"],"range":["#2a9fd6","#f7941d","#1d3fe0","#e8341c"]},"legend":null}}},
{"mark":{"type":"rule","color":"#000","strokeWidth":0.8},"encoding":{"y":{"field":"m","type":"quantitative"},"y2":{"field":"e"}}},
{"mark":{"type":"tick","orient":"horizontal","color":"#000","thickness":0.8,"size":5},"encoding":{"y":{"field":"e","type":"quantitative"}}}
]},
{"data":{"values":[{"col":"p","row":"full-length","k":"a"},{"col":"q","row":"full-length","k":"c"},{"col":"p","row":"L341 split","k":"b"},{"col":"q","row":"L341 split","k":"d"}]},
"encoding":{"x":{"field":"col","type":"nominal","scale":{"domain":["p","q"],"range":[198.3,228.3],"paddingInner":0.4,"paddingOuter":0},"axis":null},
"y":{"field":"row","type":"nominal","scale":{"domain":["full-length","L341 split"],"range":[44.3,62.3],"paddingInner":0.714,"paddingOuter":0},"axis":null}},
"layer":[
{"mark":{"type":"rect","stroke":"#000","strokeWidth":0.5},"encoding":{"fill":{"field":"k","type":"nominal","scale":{"domain":["a","b","c","d"],"range":["#2a9fd6","#f7941d","#1d3fe0","#e8341c"]},"legend":null}}},
{"transform":[{"filter":"datum.col==='p'"}],"mark":{"type":"text","fontSize":7,"fontWeight":"bold","dx":9.4,"dy":-7,"color":"#000"},"encoding":{"text":{"field":"row"}}}
]},
{"data":{"values":[
{"v":"0 mV","c":"full-length","k":"a","m":2.5,"e":2.9},
{"v":"0 mV","c":"L341 split","k":"b","m":2.4,"e":2.55},
{"v":"-100 mV","c":"full-length","k":"c","m":5.15,"e":5.5},
{"v":"-100 mV","c":"L341 split","k":"d","m":2.4,"e":2.5}]},
"encoding":{
"x":{"field":"v","type":"nominal","sort":null,"scale":{"domain":["0 mV","-100 mV"],"range":[433.3,496],"paddingInner":0.195,"paddingOuter":0.171,"align":0.34},"axis":{"orient":"bottom","offset":-259.7,"title":null,"labelAngle":0,"labelFontSize":7,"tickSize":2.5,"labelPadding":2}},
"xOffset":{"field":"c","type":"nominal","sort":null,"scale":{"domain":["full-length","L341 split"],"paddingInner":0.19,"paddingOuter":0}}},
"layer":[
{"mark":{"type":"bar","stroke":"#000","strokeWidth":0.7},"encoding":{
"y":{"field":"m","type":"quantitative","scale":{"domain":[0,6],"range":[126.3,72.3]},"axis":{"orient":"left","offset":-433.3,"values":[0,2,4,6],"title":"IMTS/ICTRL","titleX":-11,"titleY":110,"titleBaseline":"middle","titleFontSize":7,"labelFontSize":7,"tickSize":2.5,"labelPadding":1.5}},
"fill":{"field":"k","type":"nominal","scale":{"domain":["a","b","c","d"],"range":["#c8c8c8","#f26cf2","#666666","#6b0f6b"]},"legend":null}}},
{"mark":{"type":"rule","color":"#000","strokeWidth":0.8},"encoding":{"y":{"field":"m","type":"quantitative"},"y2":{"field":"e"}}},
{"mark":{"type":"tick","orient":"horizontal","color":"#000","thickness":0.8,"size":5},"encoding":{"y":{"field":"e","type":"quantitative"}}}
]},
{"data":{"values":[{"col":"p","row":"full-length","k":"a"},{"col":"q","row":"full-length","k":"c"},{"col":"p","row":"L341 split","k":"b"},{"col":"q","row":"L341 split","k":"d"}]},
"encoding":{"x":{"field":"col","type":"nominal","scale":{"domain":["p","q"],"range":[448,478],"paddingInner":0.4,"paddingOuter":0},"axis":null},
"y":{"field":"row","type":"nominal","scale":{"domain":["full-length","L341 split"],"range":[44.3,62.3],"paddingInner":0.714,"paddingOuter":0},"axis":null}},
"layer":[
{"mark":{"type":"rect","stroke":"#000","strokeWidth":0.5},"encoding":{"fill":{"field":"k","type":"nominal","scale":{"domain":["a","b","c","d"],"range":["#c8c8c8","#f26cf2","#666666","#6b0f6b"]},"legend":null}}},
{"transform":[{"filter":"datum.col==='p'"}],"mark":{"type":"text","fontSize":7,"fontWeight":"bold","dx":9.7,"dy":-7,"color":"#000"},"encoding":{"text":{"field":"row"}}}
]},
{"data":{"name":"C"},
"encoding":{"x":{"field":"t","type":"quantitative","scale":{"domain":[0,104.5],"range":[32.3,208.3]},"axis":{"orient":"bottom","offset":-70.7,"values":[0,20,40,60,80,100],"title":"Time (s)","titleX":117,"titleY":17.5,"titleBaseline":"middle","titleFontSize":8,"tickSize":4,"labelPadding":2.5}},
"y":{"field":"y","type":"quantitative","scale":{"domain":[-1,0.05],"range":[315.3,193.5]},"axis":{"orient":"left","offset":-32.3,"values":[-1,-0.8,-0.6,-0.4,-0.2,0],"format":".1f","title":"Normalized current","titleX":-27,"titleBaseline":"middle","titleFontSize":8.5,"tickSize":3.5,"labelPadding":2}}},
"layer":[
{"mark":{"type":"line","strokeWidth":0.9},"encoding":{"color":{"field":"s","type":"nominal","scale":{"domain":["I319C full-length, -100 mV","I319C full-length, 0 mV","L341 split I319C, -100 mV","L341 split I319C, 0 mV"],"range":["#1f3de0","#3aa5d8","#e0201c","#f49a50"]},"legend":null}}},
{"mark":{"type":"point","filled":true,"size":12,"opacity":1},"encoding":{
"color":{"field":"s","type":"nominal","legend":null},
"shape":{"field":"s","type":"nominal","scale":{"domain":["I319C full-length, -100 mV","I319C full-length, 0 mV","L341 split I319C, -100 mV","L341 split I319C, 0 mV"],"range":["square","square","circle","triangle-up"]},"legend":null}}},
{"data":{"values":[{"t":6.5,"y":0.158,"y1":0.045}]},"mark":{"type":"rule","color":"#000","strokeWidth":1.3},"encoding":{"y2":{"field":"y1"}}},
{"data":{"values":[{"t":6.5,"y":0.03}]},"mark":{"type":"point","shape":"triangle-down","filled":true,"size":28,"color":"#000","opacity":1}},
{"data":{"values":[{"t":9,"y":0.188,"txt":"MTSET"}]},"mark":{"type":"text","fontSize":7,"fontWeight":"bold","color":"#000"},"encoding":{"text":{"field":"txt"}}},
{"data":{"values":[{"t":-15.6,"y":0.287,"txt":"C"}]},"mark":{"type":"text","fontSize":16,"color":"#000"},"encoding":{"text":{"field":"txt"}}}
]},
{"data":{"values":[
{"s":"I319C full-length, -100 mV","col":"sym"},{"s":"I319C full-length, 0 mV","col":"sym"},{"s":"L341 split I319C, -100 mV","col":"sym"},{"s":"L341 split I319C, 0 mV","col":"sym"},
{"s":"I319C full-length, -100 mV","col":"lab"},{"s":"I319C full-length, 0 mV","col":"lab"},{"s":"L341 split I319C, -100 mV","col":"lab"},{"s":"L341 split I319C, 0 mV","col":"lab"}]},
"encoding":{"x":{"field":"col","type":"nominal","scale":{"type":"point","domain":["sym","lab"],"range":[81,89],"padding":0},"axis":null},
"y":{"field":"s","type":"nominal","scale":{"type":"point","domain":["I319C full-length, -100 mV","I319C full-length, 0 mV","L341 split I319C, -100 mV","L341 split I319C, 0 mV"],"range":[356,380.5],"padding":0},"axis":null}},
"layer":[
{"transform":[{"filter":"datum.col==='sym'"}],"mark":{"type":"tick","orient":"horizontal","size":12,"thickness":0.9},"encoding":{"color":{"field":"s","type":"nominal","scale":{"domain":["I319C full-length, -100 mV","I319C full-length, 0 mV","L341 split I319C, -100 mV","L341 split I319C, 0 mV"],"range":["#1f3de0","#3aa5d8","#e0201c","#f49a50"]},"legend":null}}},
{"transform":[{"filter":"datum.col==='sym'"}],"mark":{"type":"point","filled":true,"size":14,"opacity":1},"encoding":{"color":{"field":"s","type":"nominal","legend":null},"shape":{"field":"s","type":"nominal","scale":{"domain":["I319C full-length, -100 mV","I319C full-length, 0 mV","L341 split I319C, -100 mV","L341 split I319C, 0 mV"],"range":["square","square","circle","triangle-up"]},"legend":null}}},
{"transform":[{"filter":"datum.col==='lab'"}],"mark":{"type":"text","align":"left","fontSize":6.8,"color":"#000"},"encoding":{"text":{"field":"s"}}}
]},
{"data":{"values":[
{"v":"0 mV","c":"full-length","k":"a","m":1740,"e":2090},
{"v":"0 mV","c":"L341 split","k":"b","m":1240,"e":1490},
{"v":"-100 mV","c":"full-length","k":"c","m":575,"e":700},
{"v":"-100 mV","c":"L341 split","k":"d","m":677,"e":800}]},
"encoding":{
"x":{"field":"v","type":"nominal","sort":null,"scale":{"domain":["0 mV","-100 mV"],"range":[138.3,241.7],"paddingInner":0.369,"paddingOuter":0.227,"align":0.55},"axis":{"orient":"bottom","offset":-139.7,"title":null,"labelAngle":0,"labelFontSize":5.5,"tickSize":2,"labelPadding":2}},
"xOffset":{"field":"c","type":"nominal","sort":null,"scale":{"domain":["full-length","L341 split"],"paddingInner":0.326,"paddingOuter":0}}},
"layer":[
{"mark":{"type":"bar","stroke":"#000","strokeWidth":0.7},"encoding":{
"y":{"field":"m","type":"quantitative","scale":{"domain":[0,2500],"range":[246.3,180.7]},"axis":{"orient":"left","offset":-138.3,"values":[0,500,1000,1500,2000,2500],"title":"Modification rate constant (M⁻¹ s⁻¹)","titleX":-21.3,"titleBaseline":"middle","titleFontSize":5.5,"labelFontSize":5.5,"tickSize":2,"labelPadding":1}},
"fill":{"field":"k","type":"nominal","scale":{"domain":["a","b","c","d"],"range":["#2e9fd6","#f7941d","#1d3fe0","#e8341c"]},"legend":null}}},
{"mark":{"type":"rule","color":"#000","strokeWidth":0.8},"encoding":{"y":{"field":"m","type":"quantitative"},"y2":{"field":"e"}}},
{"mark":{"type":"tick","orient":"horizontal","color":"#000","thickness":0.8,"size":5},"encoding":{"y":{"field":"e","type":"quantitative"}}}
]},
{"data":{"name":"D"},
"encoding":{"x":{"field":"t","type":"quantitative","scale":{"domain":[0,231],"range":[284.3,460.3]},"axis":{"orient":"bottom","offset":-70.7,"values":[0,50,100,150,200],"title":"Time (s)","titleX":365,"titleY":18,"titleBaseline":"middle","titleFontSize":8,"tickSize":4,"labelPadding":2.5}},
"y":{"field":"y","type":"quantitative","scale":{"domain":[-1,0.02],"range":[315.3,191.9]},"axis":{"orient":"left","offset":-284.3,"values":[-1,-0.8,-0.6,-0.4,-0.2,0],"format":".1f","title":"Normalized current","titleX":-27,"titleBaseline":"middle","titleFontSize":8.5,"tickSize":3.5,"labelPadding":2}}},
"layer":[
{"mark":{"type":"line","strokeWidth":0.9},"encoding":{"color":{"field":"s","type":"nominal","scale":{"domain":["L322C full-length, -100 mV","L322C full-length, 0 mV","L341 split L322C, -100 mV","L341 split L322C, 0 mV"],"range":["#5a5a5a","#b4b4b4","#7a1a7a","#ee70ee"]},"legend":null}}},
{"mark":{"type":"point","filled":true,"size":10,"opacity":1},"encoding":{
"color":{"field":"s","type":"nominal","legend":null},
"shape":{"field":"s","type":"nominal","scale":{"domain":["L322C full-length, -100 mV","L322C full-length, 0 mV","L341 split L322C, -100 mV","L341 split L322C, 0 mV"],"range":["circle","diamond","square","triangle-down"]},"legend":null}}},
{"data":{"values":[{"t":13.1,"y":0.135,"y1":0.03}]},"mark":{"type":"rule","color":"#000","strokeWidth":1.3},"encoding":{"y2":{"field":"y1"}}},
{"data":{"values":[{"t":13.1,"y":0.018}]},"mark":{"type":"point","shape":"triangle-down","filled":true,"size":28,"color":"#000","opacity":1}},
{"data":{"values":[{"t":13,"y":0.16,"txt":"MTSET"}]},"mark":{"type":"text","fontSize":7,"fontWeight":"bold","color":"#000"},"encoding":{"text":{"field":"txt"}}},
{"data":{"values":[{"t":-37.1,"y":0.234,"txt":"D"}]},"mark":{"type":"text","fontSize":16,"color":"#000"},"encoding":{"text":{"field":"txt"}}}
]},
{"data":{"values":[
{"s":"L322C full-length, -100 mV","col":"sym"},{"s":"L322C full-length, 0 mV","col":"sym"},{"s":"L341 split L322C, -100 mV","col":"sym"},{"s":"L341 split L322C, 0 mV","col":"sym"},
{"s":"L322C full-length, -100 mV","col":"lab"},{"s":"L322C full-length, 0 mV","col":"lab"},{"s":"L341 split L322C, -100 mV","col":"lab"},{"s":"L341 split L322C, 0 mV","col":"lab"}]},
"encoding":{"x":{"field":"col","type":"nominal","scale":{"type":"point","domain":["sym","lab"],"range":[328,337.3],"padding":0},"axis":null},
"y":{"field":"s","type":"nominal","scale":{"type":"point","domain":["L322C full-length, -100 mV","L322C full-length, 0 mV","L341 split L322C, -100 mV","L341 split L322C, 0 mV"],"range":[356,380.5],"padding":0},"axis":null}},
"layer":[
{"transform":[{"filter":"datum.col==='sym'"}],"mark":{"type":"tick","orient":"horizontal","size":12,"thickness":0.9},"encoding":{"color":{"field":"s","type":"nominal","scale":{"domain":["L322C full-length, -100 mV","L322C full-length, 0 mV","L341 split L322C, -100 mV","L341 split L322C, 0 mV"],"range":["#5a5a5a","#b4b4b4","#7a1a7a","#ee70ee"]},"legend":null}}},
{"transform":[{"filter":"datum.col==='sym'"}],"mark":{"type":"point","filled":true,"size":14,"opacity":1},"encoding":{"color":{"field":"s","type":"nominal","legend":null},"shape":{"field":"s","type":"nominal","scale":{"domain":["L322C full-length, -100 mV","L322C full-length, 0 mV","L341 split L322C, -100 mV","L341 split L322C, 0 mV"],"range":["circle","diamond","square","triangle-down"]},"legend":null}}},
{"transform":[{"filter":"datum.col==='lab'"}],"mark":{"type":"text","align":"left","fontSize":6.8,"color":"#000"},"encoding":{"text":{"field":"s"}}}
]},
{"data":{"values":[
{"v":"0 mV","c":"full-length","k":"a","m":857,"e":958},
{"v":"0 mV","c":"L341 split","k":"b","m":752,"e":801},
{"v":"-100 mV","c":"full-length","k":"c","m":90,"e":105},
{"v":"-100 mV","c":"L341 split","k":"d","m":80,"e":95}]},
"encoding":{
"x":{"field":"v","type":"nominal","sort":null,"scale":{"domain":["0 mV","-100 mV"],"range":[396.7,495],"paddingInner":0.4545,"paddingOuter":0.121,"align":0.75},"axis":{"orient":"bottom","offset":-140,"title":null,"labelAngle":0,"labelFontSize":5.5,"tickSize":2,"labelPadding":2}},
"xOffset":{"field":"c","type":"nominal","sort":null,"scale":{"domain":["full-length","L341 split"],"paddingInner":0.313,"paddingOuter":0}}},
"layer":[
{"mark":{"type":"bar","stroke":"#000","strokeWidth":0.7},"encoding":{
"y":{"field":"m","type":"quantitative","scale":{"domain":[0,1000],"range":[246,180]},"axis":{"orient":"left","offset":-396.7,"values":[0,200,400,600,800,1000],"title":"Modification rate constant (M⁻¹ s⁻¹)","titleX":-22.7,"titleBaseline":"middle","titleFontSize":5.5,"labelFontSize":5.5,"tickSize":2,"labelPadding":1}},
"fill":{"field":"k","type":"nominal","scale":{"domain":["a","b","c","d"],"range":["#c8c8c8","#f26cf2","#5c5c5c","#6b0f6b"]},"legend":null}}},
{"mark":{"type":"rule","color":"#000","strokeWidth":0.8},"encoding":{"y":{"field":"m","type":"quantitative"},"y2":{"field":"e"}}},
{"mark":{"type":"tick","orient":"horizontal","color":"#000","thickness":0.8,"size":5},"encoding":{"y":{"field":"e","type":"quantitative"}}}
]}
]
}
